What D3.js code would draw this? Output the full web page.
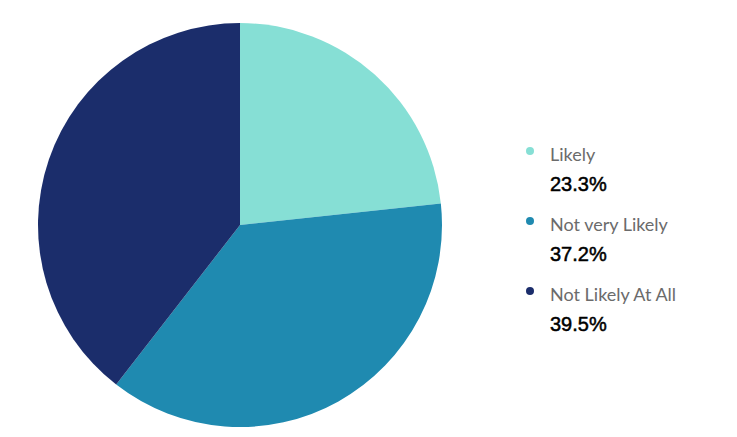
<!DOCTYPE html>
<html><head><meta charset="utf-8">
<script src="https://cdn.jsdelivr.net/npm/d3@7"></script>
<style>html,body{margin:0;padding:0;background:#fff;}svg{display:block;}</style>
</head><body>
<svg id="c" width="737" height="437"></svg>
<script>
const categories = ["Likely", "Not very Likely", "Not Likely At All"];
const values = [23.3, 37.2, 39.5];
const valueLabels = ["23.3%", "37.2%", "39.5%"];
const colors = ["#86dfd5", "#1f8ab0", "#1b2d6b"];

const svg = d3.select("#c");
const cx = 240, cy = 225, r = 202;
const pie = d3.pie().sort(null).value(d => d)(values);
const arc = d3.arc().innerRadius(0).outerRadius(r);
const color = d3.scaleOrdinal().domain(categories).range(colors);

svg.append("g").attr("transform", `translate(${cx},${cy})`)
  .selectAll("path").data(pie).join("path")
  .attr("d", arc)
  .attr("fill", (d, i) => color(categories[i]));

const y = d3.scaleBand().domain(categories).range([125, 335]);
const lg = svg.append("g").selectAll("g").data(categories).join("g")
  .attr("transform", d => `translate(530,${y(d)})`);
lg.append("circle").attr("cx", 0).attr("cy", 26).attr("r", 4).attr("fill", d => color(d));
lg.append("text").attr("x", 20).attr("y", 35.5).text(d => d)
  .attr("font-family", "Lato").attr("font-size", 18).attr("fill", "#6b6b6b");
lg.append("text").attr("x", 20).attr("y", 66).text((d, i) => valueLabels[i])
  .attr("font-family", "Liberation Sans, Arial, sans-serif").attr("font-size", 20)
  .attr("fill", "#000").attr("stroke", "#000").attr("stroke-width", 0.5);
</script>
</body></html>
